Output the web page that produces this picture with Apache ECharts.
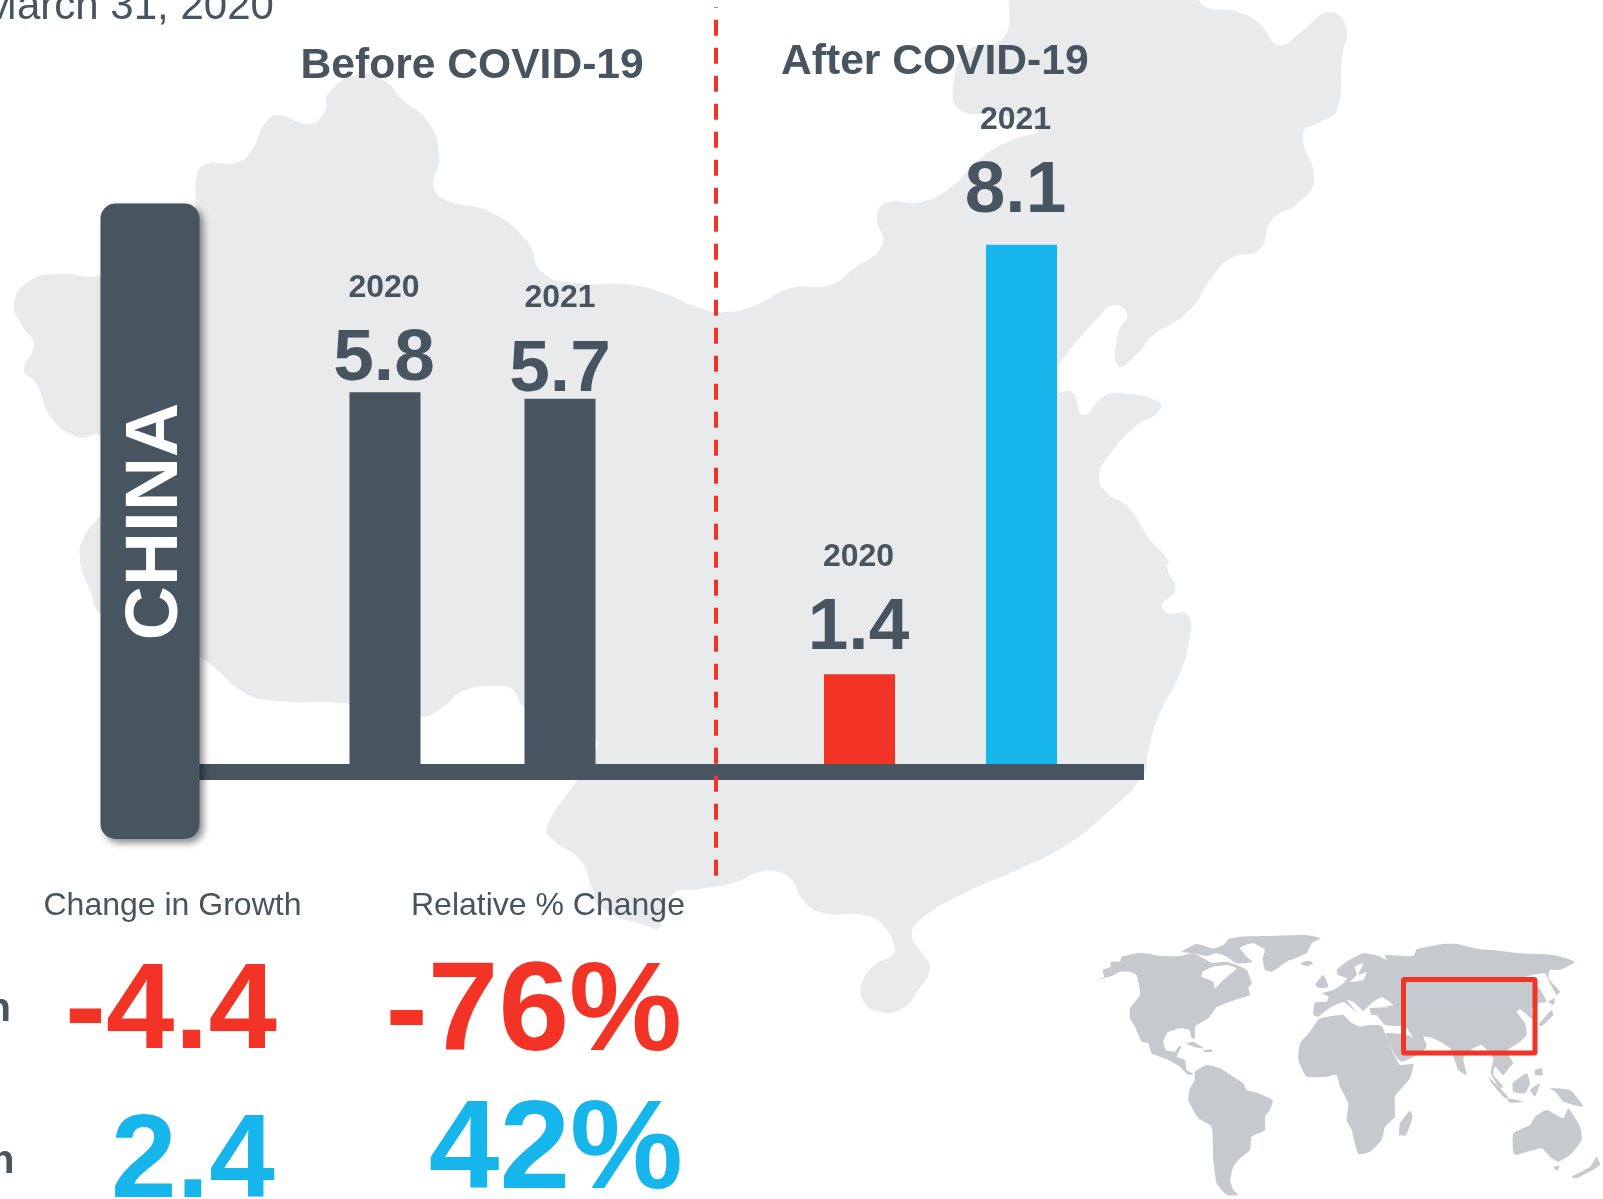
<!DOCTYPE html>
<html>
<head>
<meta charset="utf-8">
<style>html,body{margin:0;padding:0;background:#fff;overflow:hidden}#c{width:1603px;height:1199px}</style>
<script src="https://cdn.jsdelivr.net/npm/echarts@6/dist/echarts.min.js"></script>
</head>
<body>
<div id="c"></div>
<script>
// ---- chart data ----
const beforeYears = ['2020', '2021'];
const beforeValues = [5.8, 5.7];
const afterYears = ['2020', '2021'];
const afterValues = [1.4, 8.1];
const panelTitles = ['Before COVID-19', 'After COVID-19'];
const statHeaders = ['Change in Growth', 'Relative % Change'];
const changeInGrowth = ['-4.4', '2.4'];
const relativeChange = ['-76%', '42%'];

// ---- colours ----
const SLATE = '#465560', RED = '#F23325', BLUE = '#16B5EB', LAND = '#E9EAEC', WORLD = '#C6C9CE';
const FONT = '"Liberation Sans", Arial, sans-serif';

// ---- backdrop silhouettes (decoration, page coordinates) ----
const chinaOutline = [[100,275],[190,240],[196,203],[196,180],[204,165],[235,163],[250,153],[265,123],[278,115],[309,124],[324,113],[329,93],[357,75],[383,80],[403,100],[429,123],[439,157],[434,187],[446,200],[490,212],[526,240],[543,273],[577,283],[633,285],[663,293],[700,308],[726,312],[756,305],[791,288],[830,285],[852,270],[882,245],[877,217],[886,203],[921,202],[951,187],[982,157],[1012,140],[1038,130],[1000,115],[962,111],[953,90],[969,50],[1004,37],[1020,-20],[1190,-20],[1203,5],[1238,12],[1259,23],[1279,45],[1303,30],[1329,12],[1346,27],[1342,57],[1337,110],[1320,122],[1303,133],[1314,180],[1298,203],[1272,220],[1259,250],[1233,257],[1212,277],[1190,310],[1151,337],[1138,353],[1118,366],[1118,333],[1127,315],[1114,305],[1099,317],[1060,363],[1050,385],[1057,392],[1072,392],[1083,415],[1103,397],[1120,393],[1160,403],[1155,415],[1137,425],[1107,458],[1099,477],[1107,493],[1128,507],[1150,540],[1168,560],[1167,568],[1175,590],[1162,605],[1168,613],[1188,615],[1188,647],[1180,673],[1157,720],[1148,753],[1143,775],[1107,813],[1063,847],[1017,870],[967,892],[920,920],[912,937],[922,953],[930,968],[917,992],[903,1008],[880,1012],[863,1000],[863,980],[877,963],[890,957],[895,950],[883,925],[863,915],[823,913],[803,900],[790,878],[773,871],[757,873],[733,883],[700,889],[671,895],[659,928],[650,927],[600,907],[592,887],[580,860],[553,840],[547,827],[577,780],[590,760],[595,740],[524,707],[513,690],[500,686],[463,691],[443,707],[420,717],[349,704],[267,700],[240,690],[217,670],[200,657],[150,640],[102,615],[90,590],[80,560],[85,535],[100,515],[110,480],[100,436],[77,437],[51,417],[36,383],[24,370],[34,345],[23,327],[14,303],[31,280],[59,274]];

const worldLand = [
 [[48,180],[72,170],[68,150],[92,140],[92,126],[120,124],[125,110],[180,98],[245,108],[300,108],[340,100],[395,128],[440,125],[470,135],[500,150],[515,190],[505,205],[510,225],[480,235],[450,245],[410,262],[385,295],[345,320],[345,355],[335,355],[328,330],[300,325],[262,338],[250,365],[258,390],[285,395],[295,380],[305,378],[290,410],[315,420],[320,450],[340,462],[325,465],[300,440],[265,420],[215,400],[205,370],[185,365],[165,320],[150,295],[150,265],[180,225],[178,200],[170,165],[150,155],[120,155],[95,168]],
 [[305,95],[350,72],[400,85],[430,75],[450,55],[520,50],[550,60],[510,70],[480,85],[500,110],[518,125],[490,130],[470,130],[440,110],[410,100],[380,108],[340,100]],
 [[450,60],[480,50],[560,48],[680,45],[722,55],[695,70],[680,100],[620,125],[575,155],[555,150],[548,115],[555,90],[520,70],[480,75]],
 [[662,128],[685,122],[700,128],[685,138],[668,135]],
 [[318,370],[340,365],[372,385],[345,382]],
 [[370,392],[395,388],[398,395],[370,396]],
 [[345,455],[380,435],[420,445],[460,470],[490,490],[500,510],[530,518],[578,540],[570,570],[555,590],[555,630],[515,650],[510,690],[480,715],[460,740],[450,780],[460,810],[475,825],[440,825],[410,790],[400,720],[395,620],[355,595],[325,540],[330,505],[345,480]],
 [[700,320],[720,295],[790,285],[810,305],[840,320],[870,315],[905,318],[940,400],[960,435],[1000,432],[990,475],[945,530],[945,590],[915,620],[905,660],[870,695],[835,702],[815,630],[800,600],[805,550],[780,500],[770,465],[740,470],[680,470],[655,420],[660,370],[690,335]],
 [[990,572],[998,590],[978,645],[958,645],[960,610]],
 [[700,285],[705,248],[740,245],[745,230],[725,220],[760,210],[790,190],[800,175],[775,165],[770,150],[800,125],[850,100],[895,108],[920,120],[915,105],[1000,108],[1010,88],[1090,72],[1130,72],[1200,88],[1260,92],[1320,100],[1420,105],[1485,125],[1440,150],[1410,150],[1405,175],[1440,215],[1430,225],[1405,180],[1395,160],[1340,170],[1375,200],[1400,245],[1370,250],[1355,270],[1360,300],[1320,268],[1310,275],[1335,310],[1340,345],[1320,365],[1290,385],[1280,395],[1300,430],[1290,440],[1270,465],[1245,440],[1240,465],[1270,500],[1260,505],[1232,460],[1240,415],[1205,375],[1180,385],[1150,415],[1160,465],[1135,450],[1110,385],[1060,355],[1030,350],[1040,375],[1030,395],[965,425],[945,405],[918,340],[985,345],[1000,355],[985,330],[975,320],[915,315],[890,285],[875,285],[870,265],[940,262],[905,260],[875,250],[850,272],[820,245],[800,240],[832,278],[790,246],[752,262],[715,290]],
 [[705,195],[730,165],[745,200],[720,205]],
 [[1375,315],[1415,270],[1420,285],[1385,318]],
 [[1405,245],[1425,235],[1420,255]],
 [[1225,470],[1285,530],[1275,535],[1235,490]],
 [[1298,490],[1340,460],[1350,490],[1335,520],[1300,515]],
 [[1350,510],[1380,490],[1365,530]],
 [[1365,450],[1385,445],[1388,465],[1365,465]],
 [[1410,505],[1470,510],[1510,560],[1450,545],[1430,520]],
 [[1280,535],[1330,545],[1290,548]],
 [[1300,640],[1350,615],[1365,590],[1400,570],[1450,595],[1465,565],[1500,620],[1505,660],[1470,705],[1435,725],[1410,710],[1385,685],[1310,705],[1300,700]],
 [[1420,740],[1440,738],[1430,752]],
 [[1475,770],[1530,740],[1550,710],[1560,735],[1490,775]]
];
const worldWater = [
 [[368,155],[400,140],[440,135],[470,145],[430,180],[405,205],[400,185],[365,170]],
 [[825,140],[850,130],[835,165],[860,155],[850,180],[810,185],[830,165]],
 [[875,250],[905,232],[940,255],[905,260]]
];

// baseline-anchored text helper
function txt(text, x, baseline, size, weight, fill, align, z) {
  return { type: 'text', z: z || 6, silent: true,
    style: { text, x, y: baseline - 0.29 * size, fill, align: align || 'left', verticalAlign: 'middle',
      font: weight + ' ' + size + 'px ' + FONT } };
}
const wp = pts => pts.map(p => [1080 + p[0] / 3, 920 + p[1] / 3]);

const graphics = [
  { type: 'polygon', z: 0, silent: true, shape: { points: chinaOutline, smooth: 0.5 }, style: { fill: LAND } },
  ...worldLand.map(p => ({ type: 'polygon', z: 0, silent: true, shape: { points: wp(p), smooth: 0.15 }, style: { fill: WORLD } })),
  ...worldWater.map(p => ({ type: 'polygon', z: 1, silent: true, shape: { points: wp(p), smooth: 0.15 }, style: { fill: '#fff' } })),
  { type: 'rect', z: 1, silent: true, shape: { x: 1403.5, y: 979.5, width: 131.5, height: 73.5, r: 1 }, style: { fill: 'none', stroke: RED, lineWidth: 5 } },
  { type: 'rect', z: 3, silent: true, shape: { x: 199, y: 764, width: 945, height: 16 }, style: { fill: SLATE } },
  { type: 'line', z: 4, silent: true, shape: { x1: 716, y1: 7, x2: 716, y2: 875.7 }, style: { stroke: RED, lineWidth: 4, lineDash: [16, 12], lineDashOffset: 15.3 } },
  { type: 'rect', z: 5, silent: true, shape: { x: 100.5, y: 203.5, width: 99, height: 635.5, r: 15 },
    style: { fill: SLATE, shadowColor: 'rgba(0,0,0,0.45)', shadowBlur: 7, shadowOffsetX: 4, shadowOffsetY: 4 } },
  { type: 'text', z: 6, silent: true, x: 156, y: 521.5, rotation: Math.PI / 2,
    style: { text: 'CHINA', x: 0, y: 0, fill: '#fff', align: 'center', verticalAlign: 'middle', font: 'bold 75px ' + FONT } },
  txt('March 31, 2020', -18, 20, 42, 'normal', SLATE),
  txt(panelTitles[0], 300.5, 78.5, 42.6, 'bold', SLATE),
  txt(panelTitles[1], 781, 74.5, 42.6, 'bold', SLATE),
  txt(statHeaders[0], 43.5, 915, 32, 'normal', SLATE),
  txt(statHeaders[1], 411, 915, 32, 'normal', SLATE),
  txt('n', 11, 1022, 40, 'bold', SLATE, 'right'),
  txt('n', 14.5, 1174, 40, 'bold', SLATE, 'right'),
  txt(changeInGrowth[0], 277, 1050, 123, 'bold', RED, 'right'),
  txt(relativeChange[0], 682, 1052, 127, 'bold', RED, 'right'),
  txt(changeInGrowth[1], 275, 1199, 118, 'bold', BLUE, 'right'),
  txt(relativeChange[1], 683, 1190, 127, 'bold', BLUE, 'right')
];

function barData(values, colors, offsets) {
  return values.map((v, i) => ({ value: v, itemStyle: { color: colors[i] }, label: { offset: offsets[i] } }));
}
const barLabel = {
  show: true, position: 'top', distance: 0, color: SLATE, fontFamily: FONT,
  formatter: p => '{yr|' + p.name + '}\n{val|' + p.value.toFixed(1) + '}',
  rich: {
    yr: { fontSize: 32, fontWeight: 'bold', fontFamily: FONT, color: SLATE, lineHeight: 56, align: 'center' },
    val: { fontSize: 73, fontWeight: 'bold', fontFamily: FONT, color: SLATE, lineHeight: 89, align: 'center' }
  }
};

const hiddenY = i => ({ type: 'value', gridIndex: i, min: 0, max: 10, show: false });
const hiddenX = (i, d) => ({ type: 'category', gridIndex: i, data: d, show: false });

const option = {
  animation: false,
  backgroundColor: '#fff',
  graphic: { elements: graphics },
  grid: [
    { left: 297.5, top: 123, width: 350, height: 641 },
    { left: 778.5, top: 123, width: 324, height: 641 }
  ],
  xAxis: [hiddenX(0, beforeYears), hiddenX(1, afterYears)],
  yAxis: [hiddenY(0), hiddenY(1)],
  series: [
    { type: 'bar', name: panelTitles[0], xAxisIndex: 0, yAxisIndex: 0, barWidth: 71, z: 2, label: barLabel,
      data: barData(beforeValues, [SLATE, SLATE], [[-1, 12.5], [0, 17]]) },
    { type: 'bar', name: panelTitles[1], xAxisIndex: 1, yAxisIndex: 1, barWidth: 71, z: 2, label: barLabel,
      data: barData(afterValues, [RED, BLUE], [[-1, -0.5], [-6, -8]]) }
  ]
};
echarts.init(document.getElementById('c'), null, { renderer: 'canvas' }).setOption(option);
</script>
</body>
</html>
